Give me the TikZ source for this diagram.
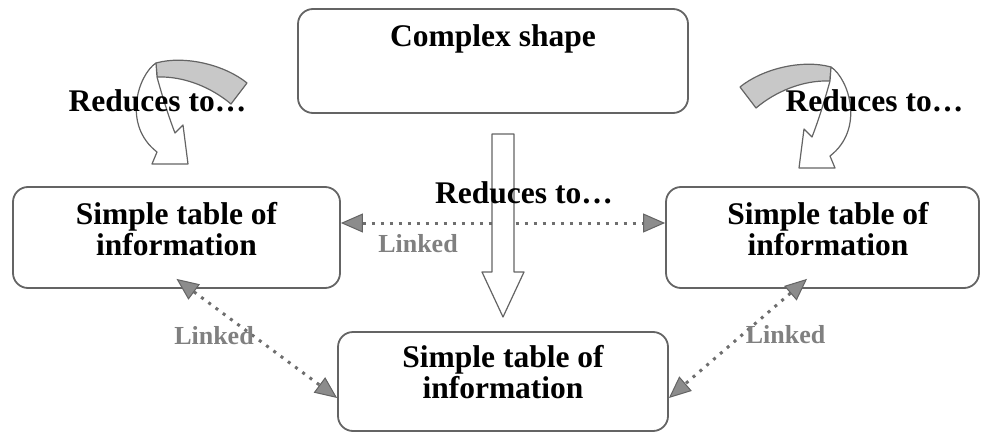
\documentclass[tikz,border=0pt]{standalone}
\usepackage{fontspec}
\setmainfont{Liberation Serif}
\usetikzlibrary{arrows.meta}
\definecolor{edgegray}{RGB}{100,100,100}
\definecolor{linkgray}{RGB}{128,128,128}
\definecolor{dotgray}{RGB}{110,110,110}
\definecolor{tipgray}{RGB}{140,140,140}
\definecolor{bandgray}{RGB}{200,200,200}

% curved ribbon arrow: grey back face, white front face ending in a head
\newcommand{\ribbonarrow}{%
  \draw[ribbon, fill=bandgray] (156,63) .. controls (185,55) and (225,65) .. (247,83)
    -- (231,104) .. controls (212,88) and (185,76) .. (157,77) -- cycle;
  \draw[ribbon, fill=white] (156,63) .. controls (138,75) and (122,125) .. (157,152)
    -- (152,164) -- (188,164) -- (183,125) -- (175,133)
    .. controls (168,115) and (162,95) .. (157,77) -- cycle;
}

\begin{document}
\begin{tikzpicture}[x=1pt,y=-1pt,
  box/.style={draw=edgegray, line width=1.8pt, rounded corners=15pt, fill=white, inner sep=0pt},
  boxtext/.style={font=\fontsize{31.5}{31}\selectfont\bfseries, align=center, inner sep=0pt},
  reduce/.style={font=\fontsize{31.5}{31}\selectfont\bfseries, inner sep=0pt, anchor=base},
  linklabel/.style={font=\fontsize{26}{26}\selectfont\bfseries, text=linkgray, inner sep=0pt, anchor=base},
  link/.style={draw=dotgray, line width=3pt, dash pattern=on 3pt off 6pt, {Triangle[length=22pt, width=19pt, line width=1pt, color=edgegray, fill=tipgray]}-{Triangle[length=22pt, width=19pt, line width=1pt, color=edgegray, fill=tipgray]}},
  ribbon/.style={draw=edgegray, line width=1.2pt, line join=round},
]
\useasboundingbox (0,0) rectangle (984,433);

% boxes
\node[box, minimum width=390pt, minimum height=104pt] (C) at (493,61) {};
\node[box, minimum width=327pt, minimum height=101pt] (L) at (176.5,237.5) {};
\node[box, minimum width=313pt, minimum height=101pt] (R) at (822.5,237.5) {};
\node[box, minimum width=330pt, minimum height=99pt] (B) at (503,381.5) {};

% dotted links
\draw[link] ([yshift=14.5pt]L.east) -- ([yshift=14.5pt]R.west);
\draw[link] ([yshift=10pt]L.south) -- ([yshift=-16.5pt]B.west);
\draw[link] ([xshift=-15.5pt,yshift=10pt]R.south) -- ([yshift=-16.5pt]B.east);

% central block arrow
\draw[ribbon, fill=white] (492,134) -- (514,134) -- (514,272) -- (524,272)
  -- (503,317) -- (482,272) -- (492,272) -- cycle;

% curved arrows
\ribbonarrow
\begin{scope}[shift={(987,4)}, xscale=-1]
  \ribbonarrow
\end{scope}

% texts
\node[reduce] (Ct) at (493,47) {Complex shape};
\node[boxtext] (Lt) at (176.5,229) {Simple table of\\information};
\node[boxtext] (Rt) at (828,229) {Simple table of\\information};
\node[boxtext] (Bt) at (503,371.75) {Simple table of\\information};

\node[reduce] (r1) at (157.5,112) {Reduces to…};
\node[reduce] (r2) at (874.5,112) {Reduces to…};
\node[reduce] (r3) at (524,203) {Reduces to…};

\node[linklabel] (k1) at (418,252) {Linked};
\node[linklabel] (k2) at (214,344) {Linked};
\node[linklabel] (k3) at (785.5,343) {Linked};
\end{tikzpicture}
\end{document}
